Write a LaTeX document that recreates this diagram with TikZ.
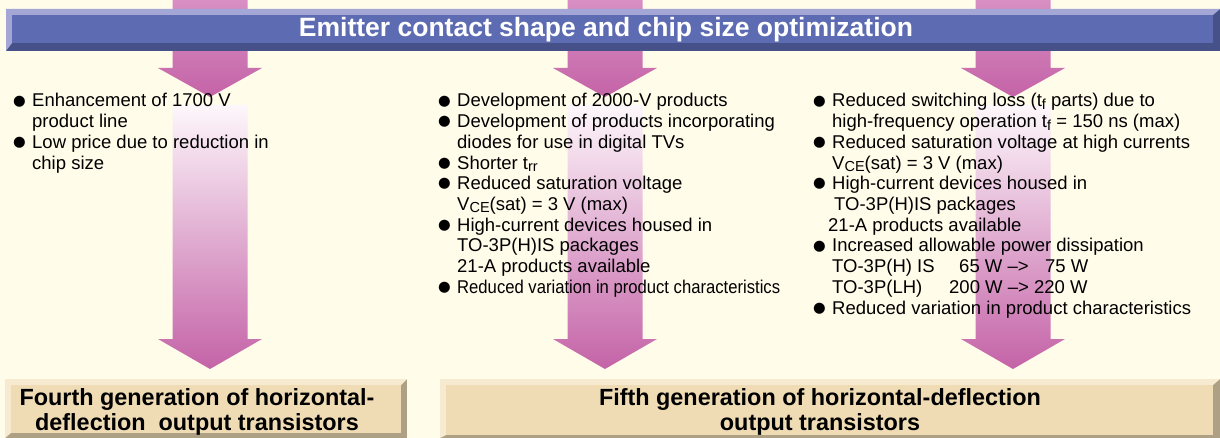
\documentclass[tikz,border=0pt]{standalone}
\usepackage{fontspec}
\usepackage{graphicx}
\setmainfont{Liberation Sans}
\newfontfamily\symfont{DejaVu Sans}

\definecolor{cream}{HTML}{FFFCEA}
\definecolor{bannerlight}{HTML}{A4A7D5}
\definecolor{bannermain}{HTML}{5D6CB2}
\definecolor{bannerdark}{HTML}{465089}
\definecolor{boxlight}{HTML}{F6EBD0}
\definecolor{boxmain}{HTML}{EFDCB5}
\definecolor{boxdark}{HTML}{ADA084}
\definecolor{arrowtop}{HTML}{D88FC3}
\definecolor{arrowbot}{HTML}{C463A7}
\definecolor{arrowpale}{HTML}{FDF7FB}

% bullet and continuation indent of the lists
\newcommand{\bul}{\makebox[19pt][l]{\raisebox{1.8pt}{\symfont\fontsize{14.5}{14.5}\selectfont ●}}}
\newcommand{\cont}{\hspace{19pt}}
\newcommand{\lowidx}[1]{\raisebox{-2.5pt}{\fontsize{14.5}{14.5}\selectfont #1}}

% bevelled panel: colour prefix, outer corners, inner corners
\newcommand{\bevelbox}[5]{%
  \fill[#1dark] (#2) rectangle (#3);
  \fill[#1light] (#2) -- (#2 -| #3) -- (#4 -| #5) -- (#4) -- (#4 |- #5) -- (#2 |- #3) -- cycle;
  \fill[#1main] (#4) rectangle (#5);
}

\tikzset{
  titletext/.style={anchor=base, inner sep=0, text=white, font=\fontsize{26.5}{30}\selectfont\bfseries},
  gentext/.style={anchor=base, inner sep=0, font=\fontsize{23.4}{25}\selectfont\bfseries},
  listtext/.style={anchor=base west, inner sep=0, font=\fontsize{18.5}{20.7}\selectfont},
}

\begin{document}
\begin{tikzpicture}[x=1pt, y=-1pt]
\useasboundingbox (0,0) rectangle (1220,438);
\fill[cream] (0,0) rectangle (1220,438);

% big arrows, upper and lower
\foreach \c in {210,605,1013}{
  \shade[top color=arrowtop, bottom color=arrowbot]
    (\c-37.5,0) -- (\c+37.5,0) -- (\c+37.5,68) -- (\c+52,68) -- (\c,97)
    -- (\c-52,68) -- (\c-37.5,68) -- cycle;
  \shade[top color=arrowpale, bottom color=arrowbot]
    (\c-37.5,105) -- (\c+37.5,105) -- (\c+37.5,339) -- (\c+52,339) -- (\c,369)
    -- (\c-52,339) -- (\c-37.5,339) -- cycle;
}

% banner
\coordinate (bo1) at (6,9);    \coordinate (bo2) at (1220,51);
\coordinate (bi1) at (12,15);  \coordinate (bi2) at (1213,43);
\bevelbox{banner}{bo1}{bo2}{bi1}{bi2}
\node[titletext] (title) at (606,37) {Emitter contact shape and chip size optimization};

% generation boxes
\coordinate (fo1) at (5,379);   \coordinate (fo2) at (407,438);
\coordinate (fi1) at (11,385);  \coordinate (fi2) at (401,433);
\bevelbox{box}{fo1}{fo2}{fi1}{fi2}
\coordinate (vo1) at (440,379); \coordinate (vo2) at (1220,438);
\coordinate (vi1) at (446,385); \coordinate (vi2) at (1213,435);
\bevelbox{box}{vo1}{vo2}{vi1}{vi2}

\node[gentext] (gen4) at (197,405) {\begin{tabular}[t]{@{}c@{}}
  Fourth generation of horizontal-\\ deflection~ output transistors\end{tabular}};
\node[gentext] (gen5) at (820,405) {\begin{tabular}[t]{@{}c@{}}
  Fifth generation of horizontal-deflection\\ output transistors\end{tabular}};

% feature lists
\node[listtext] (list4) at (13,107) {\begin{tabular}[t]{@{}l@{}}
  \bul Enhancement of 1700 V\\
  \cont product line\\
  \bul Low price due to reduction in\\
  \cont chip size
\end{tabular}};
\node[listtext] (list5a) at (438,107) {\begin{tabular}[t]{@{}l@{}}
  \bul Development of 2000-V products\\
  \bul Development of products incorporating\\
  \cont diodes for use in digital TVs\\
  \bul Shorter t\lowidx{rr}\\
  \bul Reduced saturation voltage\\
  \cont V\lowidx{CE}(sat) = 3 V (max)\\
  \bul High-current devices housed in\\
  \cont TO-3P(H)IS packages\\
  \cont 21-A products available\\
  \bul \scalebox{0.9}[1]{Reduced variation in product characteristics}
\end{tabular}};
\node[listtext] (list5b) at (813,107) {\begin{tabular}[t]{@{}l@{}}
  \bul Reduced switching loss (t\lowidx{f} parts) due to\\
  \cont high-frequency operation t\lowidx{f} = 150 ns (max)\\
  \bul Reduced saturation voltage at high currents\\
  \cont V\lowidx{CE}(sat) = 3 V (max)\\
  \bul High-current devices housed in\\
  \cont\hspace{2pt}TO-3P(H)IS packages\\
  \cont\hspace{-4pt}21-A products available\\
  \bul Increased allowable power dissipation\\
  \cont\makebox[127pt][l]{TO-3P(H) IS}\makebox[86pt][l]{65 W –>}75 W\\
  \cont\makebox[117pt][l]{TO-3P(LH)}200 W –> 220 W\\[0.8pt]
  \bul Reduced variation in product characteristics
\end{tabular}};
\end{tikzpicture}
\end{document}
